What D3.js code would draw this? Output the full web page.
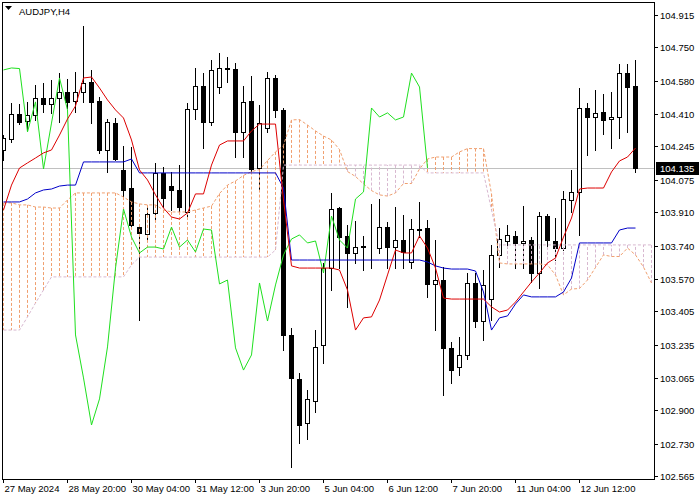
<!DOCTYPE html>
<html><head><meta charset="utf-8">
<script src="https://cdn.jsdelivr.net/npm/d3@7"></script>
<style>
body{margin:0;background:#fff;}
svg{display:block;}
text{font-family:"Liberation Sans",Arial,sans-serif;font-size:9.5px;fill:#000;}
</style>
</head><body>
<svg id="chart" width="700" height="500"></svg>
<script>
const symbolTitle = "AUDJPY,H4";
const timeTickIndex = [0, 8, 16, 24, 32, 40, 48, 56, 64, 72];
const timeLabels = ["27 May 2024", "28 May 20:00", "30 May 04:00", "31 May 12:00", "3 Jun 20:00",
  "5 Jun 04:00", "6 Jun 12:00", "7 Jun 20:00", "11 Jun 04:00", "12 Jun 12:00"];
const priceTicks = [104.915, 104.750, 104.580, 104.410, 104.245, 104.075, 103.910, 103.740,
  103.570, 103.405, 103.235, 103.065, 102.900, 102.730, 102.565];
const lastPrice = 104.135;

const opens = [104.227,104.283,104.410,104.375,104.405,104.492,104.461,104.492,104.523,104.477,
 104.523,104.573,104.477,104.227,104.364,104.125,104.033,103.834,103.799,103.906,
 104.110,104.043,104.023,103.911,104.436,104.553,104.370,104.548,104.645,104.640,
 104.319,104.477,104.135,104.339,104.594,104.431,103.284,103.060,102.835,102.947,
 103.233,103.625,103.931,103.789,103.702,103.738,103.724,103.727,103.834,103.732,
 103.768,103.656,103.824,103.829,103.544,103.564,103.218,103.121,103.182,103.549,
 103.355,103.467,103.692,103.763,103.789,103.753,103.768,103.600,103.890,103.763,
 103.727,103.972,104.013,104.441,104.395,104.421,104.385,104.395,104.619,104.553];
const highs = [104.303,104.466,104.461,104.472,104.558,104.568,104.584,104.619,104.589,104.624,
 104.859,104.635,104.497,104.385,104.390,104.247,104.242,103.850,103.936,104.161,
 104.140,104.115,104.150,104.466,104.645,104.619,104.686,104.721,104.701,104.670,
 104.553,104.604,104.456,104.624,104.609,104.441,103.320,103.090,103.003,103.309,
 103.651,104.008,103.936,103.845,103.865,103.789,103.952,103.977,103.860,103.936,
 103.896,103.875,103.962,103.870,103.768,103.630,103.248,103.274,103.600,103.600,
 103.615,103.743,103.829,103.845,103.814,103.941,103.783,103.911,103.901,103.880,
 104.018,104.125,104.543,104.466,104.533,104.512,104.523,104.665,104.665,104.686];
const lows = [104.176,104.268,104.359,104.329,104.380,104.421,104.416,104.370,104.441,104.421,
 104.472,104.364,104.212,104.115,104.176,103.987,103.829,103.360,103.768,103.870,
 103.936,103.921,103.906,103.885,104.385,104.237,104.354,104.517,104.573,104.191,
 104.191,104.115,104.023,104.319,104.395,103.207,102.611,102.733,102.754,102.891,
 103.141,103.513,103.625,103.427,103.651,103.615,103.625,103.702,103.625,103.625,
 103.625,103.625,103.783,103.478,103.309,102.978,103.039,103.080,103.162,103.325,
 103.258,103.360,103.630,103.727,103.625,103.625,103.554,103.523,103.732,103.666,
 103.717,103.911,103.794,104.201,104.227,104.308,104.237,104.288,104.319,104.115];
const closes = [104.288,104.410,104.370,104.405,104.492,104.461,104.492,104.523,104.472,104.523,
 104.568,104.472,104.227,104.370,104.181,104.023,103.845,103.804,103.901,104.110,
 103.982,104.023,103.936,104.436,104.553,104.370,104.635,104.645,104.642,104.319,
 104.472,104.130,104.364,104.594,104.431,103.284,103.065,102.825,102.958,103.223,
 103.625,103.926,103.783,103.702,103.732,103.732,103.722,103.834,103.732,103.768,
 103.707,103.824,103.819,103.544,103.564,103.218,103.105,103.182,103.549,103.355,
 103.539,103.692,103.773,103.794,103.753,103.763,103.600,103.890,103.768,103.727,
 103.977,104.013,104.441,104.395,104.416,104.380,104.395,104.619,104.548,104.135];

const tenkan = [103.921,104.048,104.135,104.161,104.186,104.212,104.227,104.303,104.385,104.451,
 104.594,104.599,104.543,104.482,104.431,104.390,104.278,104.125,104.074,103.998,
 103.931,103.885,103.875,103.906,104.003,104.003,104.150,104.252,104.273,104.273,
 104.273,104.324,104.359,104.359,104.359,103.972,103.636,103.625,103.625,103.625,
 103.625,103.625,103.615,103.513,103.309,103.371,103.376,103.462,103.590,103.717,
 103.702,103.702,103.789,103.727,103.625,103.472,103.467,103.467,103.467,103.467,
 103.467,103.427,103.401,103.411,103.452,103.503,103.554,103.600,103.651,103.676,
 103.783,103.880,104.028,104.033,104.033,104.033,104.115,104.171,104.191,104.237];
const kijun = [103.962,103.962,103.962,103.977,104.008,104.023,104.028,104.043,104.048,104.048,
 104.166,104.166,104.166,104.166,104.166,104.166,104.181,104.110,104.110,104.110,
 104.110,104.110,104.110,104.110,104.110,104.110,104.110,104.110,104.110,104.110,
 104.110,104.110,104.110,104.110,104.110,104.033,103.666,103.666,103.666,103.666,
 103.666,103.666,103.666,103.666,103.666,103.666,103.666,103.666,103.666,103.666,
 103.666,103.666,103.666,103.656,103.636,103.625,103.620,103.620,103.620,103.610,
 103.503,103.309,103.371,103.381,103.442,103.488,103.478,103.478,103.478,103.478,
 103.503,103.574,103.753,103.753,103.753,103.753,103.753,103.819,103.829,103.829];
const chikou = [104.635,104.645,104.642,104.319,104.472,104.130,104.364,104.594,104.431,103.284,
 103.065,102.825,102.958,103.223,103.625,103.926,103.783,103.702,103.732,103.732,
 103.722,103.834,103.732,103.768,103.707,103.824,103.819,103.544,103.564,103.218,
 103.105,103.182,103.549,103.355,103.539,103.692,103.773,103.794,103.753,103.763,
 103.600,103.890,103.768,103.727,103.977,104.013,104.441,104.395,104.416,104.380,
 104.395,104.619,104.548,104.135];
const spanA = [103.957,103.957,103.947,103.947,103.936,103.936,103.931,103.931,103.972,104.008,
 104.008,104.008,104.008,104.008,104.008,103.987,103.962,103.952,103.947,103.947,
 103.921,103.911,103.911,103.911,103.921,103.931,103.941,104.005,104.048,104.069,
 104.097,104.117,104.127,104.173,104.217,104.250,104.380,104.382,104.354,104.324,
 104.298,104.278,104.229,104.117,104.092,104.054,104.020,103.998,103.992,104.008,
 104.056,104.056,104.130,104.181,104.191,104.191,104.191,104.217,104.234,104.234,
 104.234,104.003,103.651,103.646,103.646,103.646,103.646,103.646,103.641,103.590,
 103.488,103.518,103.521,103.564,103.628,103.692,103.684,103.684,103.727,103.692,
 103.630,103.549];
const spanB = [103.309,103.309,103.309,103.376,103.447,103.513,103.580,103.580,103.580,103.580,
 103.580,103.580,103.580,103.580,103.580,103.580,103.641,103.681,103.681,103.681,
 103.681,103.681,103.681,103.681,103.681,103.681,103.681,103.681,103.681,103.681,
 103.681,103.681,103.681,103.681,103.717,104.150,104.150,104.150,104.150,104.150,
 104.150,104.150,104.150,104.150,104.150,104.150,104.150,104.150,104.150,104.150,
 104.150,104.150,104.150,104.110,104.110,104.110,104.110,104.110,104.110,104.110,
 104.110,103.921,103.743,103.743,103.743,103.743,103.743,103.743,103.743,103.743,
 103.743,103.743,103.743,103.743,103.743,103.743,103.743,103.743,103.743,103.743,
 103.743,103.743];

const svg = d3.select("#chart");
const L = 2, T = 2, R = 654, B = 479;
const x = d3.scaleLinear().domain([0, 79]).range([3, 635]);
const y = d3.scaleLinear().domain([102.565, 104.915]).range([476, 15]);
const px = v => Math.round(x(v)) + 0.5;

svg.append("defs").append("clipPath").attr("id", "plot")
  .append("rect").attr("x", L).attr("y", T).attr("width", R - L).attr("height", B - T);
const g = svg.append("g").attr("clip-path", "url(#plot)");

// last price line
g.append("line").attr("x1", L).attr("x2", R)
  .attr("y1", Math.round(y(lastPrice)) + 0.5).attr("y2", Math.round(y(lastPrice)) + 0.5)
  .attr("stroke", "#c0c0c0").attr("stroke-width", 1);

// candles
const candles = d3.range(opens.length).map(i => ({i, o: opens[i], h: highs[i], l: lows[i], c: closes[i]}));
const cg = g.append("g");
cg.selectAll("line.wick").data(candles).join("line").attr("class", "wick")
  .attr("x1", d => px(d.i)).attr("x2", d => px(d.i))
  .attr("y1", d => Math.round(y(d.h))).attr("y2", d => Math.round(y(d.l)) + 1)
  .attr("stroke", "#000").attr("stroke-width", 1);
cg.selectAll("rect.body").data(candles).join("rect").attr("class", "body")
  .attr("x", d => Math.round(x(d.i)) - 1.5)
  .attr("width", 4)
  .attr("y", d => Math.round(y(Math.max(d.o, d.c))) + 0.5)
  .attr("height", d => Math.max(0, Math.round(y(Math.min(d.o, d.c))) - Math.round(y(Math.max(d.o, d.c)))))
  .attr("fill", d => d.c >= d.o ? "#fff" : "#000")
  .attr("stroke", "#000").attr("stroke-width", 1);

// cloud (Senkou span histogram)
const sandy = "#F0A070", thistle = "#D8B8D0";
const cloud = d3.range(spanA.length).map(i => ({i, a: spanA[i], b: spanB[i]}));
const cloudG = g.append("g");
cloud.forEach(d => {
  cloudG.append("path")
    .attr("d", `M${px(d.i)},${y(d.a)}V${y(d.b)}`)
    .style("stroke", d.a >= d.b ? sandy : thistle)
    .style("stroke-width", "1px")
    .style("stroke-dasharray", "3,2")
    .style("fill", "none");
});

const line = d3.line().x((d, i) => x(i) + 0.5).y(d => y(d));
g.append("path").datum(spanA).attr("d", line).style("fill", "none")
  .style("stroke", sandy).style("stroke-dasharray", "3,2");
g.append("path").datum(spanB).attr("d", line).style("fill", "none")
  .style("stroke", thistle).style("stroke-dasharray", "3,2");

// Chikou, Kijun, Tenkan
g.append("path").datum(chikou).attr("d", line).attr("fill", "none").attr("stroke", "#1fe01f").attr("stroke-width", 1);
g.append("path").datum(kijun).attr("d", line).attr("fill", "none").attr("stroke", "#0000c8").attr("stroke-width", 1);
g.append("path").datum(tenkan).attr("d", line).attr("fill", "none").attr("stroke", "#dd0000").attr("stroke-width", 1);

// frame
svg.append("rect").attr("x", L + 0.5).attr("y", T + 0.5).attr("width", R - L).attr("height", B - T)
  .attr("fill", "none").attr("stroke", "#000").attr("stroke-width", 1);

// price axis
const ya = svg.append("g");
priceTicks.forEach(v => {
  const yy = Math.round(y(v)) + 0.5;
  ya.append("line").attr("x1", R + 0.5).attr("x2", R + 4).attr("y1", yy).attr("y2", yy).attr("stroke", "#000");
  ya.append("text").attr("x", 660).attr("y", yy + 3.5).text(v.toFixed(3));
});
// last price label
const ly = Math.round(y(lastPrice));
svg.append("rect").attr("x", 656).attr("y", ly - 6).attr("width", 43).attr("height", 13).attr("fill", "#000");
svg.append("text").attr("x", 660).attr("y", ly + 4).style("fill", "#fff").text(lastPrice.toFixed(3));

// time axis
timeTickIndex.forEach((idx, k) => {
  const xx = px(idx);
  svg.append("line").attr("x1", xx).attr("x2", xx).attr("y1", B).attr("y2", B + 4).attr("stroke", "#000");
  svg.append("text").attr("x", xx + 1).attr("y", 492).text(timeLabels[k]);
});

// title
svg.append("path").attr("d", "M5,6 L12,6 L8.5,10 Z").attr("fill", "#000");
svg.append("text").attr("x", 19).attr("y", 15).text(symbolTitle);
</script>
</body></html>
